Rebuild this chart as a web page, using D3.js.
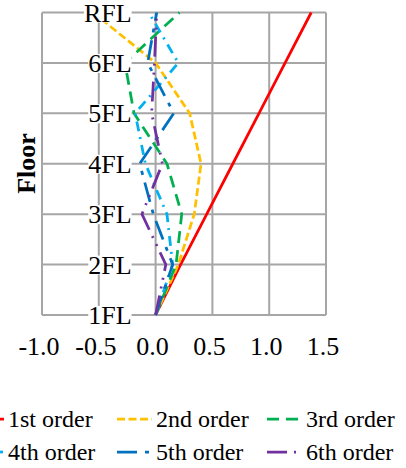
<!DOCTYPE html>
<html>
<head>
<meta charset="utf-8">
<script src="https://cdn.jsdelivr.net/npm/d3@7"></script>
<style>
  html, body { margin: 0; padding: 0; background: #ffffff; }
  svg { display: block; }
  text { font-family: "Liberation Serif", "Times New Roman", serif; fill: #000; }
</style>
</head>
<body>
<script>
// ---- data ----
const floors = ["1FL", "2FL", "3FL", "4FL", "5FL", "6FL", "RFL"];
const xTicks = [-1.0, -0.5, 0.0, 0.5, 1.0, 1.5];
const seriesNames = ["1st order", "2nd order", "3rd order", "4th order", "5th order", "6th order"];
const order1 = [0, 0.22, 0.45, 0.68, 0.91, 1.14, 1.37];
const order2 = [0, 0.20, 0.34, 0.40, 0.30, 0.00, -0.55];
const order3 = [0, 0.18, 0.23, 0.10, -0.19, -0.27, 0.21];
const order4 = [0, 0.15, 0.10, -0.09, -0.18, 0.20, -0.06];
const order5 = [0, 0.15, -0.02, -0.14, 0.16, -0.07, 0.01];
const order6 = [0, 0.09, -0.12, 0.06, -0.035, -0.01, 0.01];
const seriesValues = [order1, order2, order3, order4, order5, order6];

// ---- styles ----
const colors = ["#FF0000", "#FFC000", "#00B050", "#00B0F0", "#0070C0", "#7030A0"];
const dashes = [null, "8,3.5", "12,7", "10,6,2,6", "20,8,4,8", "20,7,2,7,2,7"];

const W = 406, H = 468;
const svg = d3.select("body").append("svg").attr("width", W).attr("height", H);
svg.append("rect").attr("width", W).attr("height", H).attr("fill", "#fff");

const x = d3.scaleLinear().domain([-1.0, 1.5]).range([42, 326]);
const y = d3.scalePoint().domain(floors).range([315, 12.5]);

const gridColor = "#A6A6A6";
const g = svg.append("g");

// vertical gridlines
g.selectAll("line.vg").data(xTicks).join("line")
  .attr("x1", d => x(d)).attr("x2", d => x(d))
  .attr("y1", y(floors[floors.length - 1])).attr("y2", y(floors[0]))
  .attr("stroke", gridColor).attr("stroke-width", 2);
// horizontal gridlines
g.selectAll("line.hg").data(floors).join("line")
  .attr("y1", d => y(d)).attr("y2", d => y(d))
  .attr("x1", x(-1.0)).attr("x2", x(1.5))
  .attr("stroke", gridColor).attr("stroke-width", 2);

// x tick labels via axis
const xAxis = d3.axisBottom(x).tickValues(xTicks).tickSize(0).tickPadding(0)
  .tickFormat(d3.format(".1f"));
const xa = svg.append("g").attr("transform", "translate(-3.5,330)").call(xAxis);
xa.select(".domain").remove();
xa.selectAll("text").attr("font-size", 26).attr("font-family", "Liberation Serif")
  .attr("fill", "#000").attr("dy", 0).attr("y", 25)
  .text(d => d3.format(".1f")(d).replace("−", "-"));

// series lines
const line = d3.line().x(d => x(d.v)).y(d => y(d.f));
seriesValues.forEach((vals, i) => {
  const pts = vals.map((v, k) => ({ v, f: floors[k] }));
  svg.append("path").datum(pts)
    .attr("d", line)
    .attr("fill", "none")
    .attr("stroke", colors[i])
    .attr("stroke-width", 2.75)
    .attr("stroke-linejoin", "round")
    .attr("stroke-dasharray", dashes[i]);
});

// y labels with white background (placed left of axis at x=0)
const ylab = svg.append("g");
floors.forEach(f => {
  const t = ylab.append("text")
    .attr("x", x(0) - 24).attr("y", y(f) + 9)
    .attr("text-anchor", "end").attr("font-size", 26).text(f);
  const bb = t.node().getBBox();
  ylab.insert("rect", "text")
    .attr("x", bb.x).attr("width", bb.width)
    .attr("y", y(f) - 9).attr("height", 19)
    .attr("fill", "#fff");
});

// y axis title
svg.append("text")
  .attr("transform", "translate(35,163.5) rotate(-90)")
  .attr("text-anchor", "middle")
  .attr("font-size", 26).attr("font-weight", "bold")
  .text("Floor");

// legend
const legCols = [-31, 117, 267];
const legRows = [419, 452];
const legendData = seriesNames.map((name, i) => ({ name, i, col: i % 3, row: Math.floor(i / 3) }));
const lg = svg.append("g");
legendData.forEach(d => {
  const sx = legCols[d.col], sy = legRows[d.row];
  lg.append("line")
    .attr("x1", sx).attr("x2", sx + 35)
    .attr("y1", sy).attr("y2", sy)
    .attr("stroke", colors[d.i]).attr("stroke-width", 2.75)
    .attr("stroke-dasharray", dashes[d.i]);
  lg.append("text")
    .attr("x", sx + 39).attr("y", sy + 8)
    .attr("font-size", 24).text(d.name);
});
</script>
</body>
</html>
